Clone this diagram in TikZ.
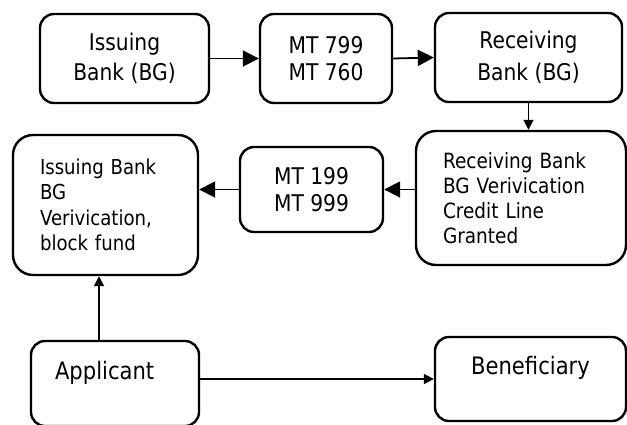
\documentclass[tikz,border=0pt]{standalone}
\usepackage{fontspec}
\setmainfont{DejaVu Sans}[FakeStretch=0.88]
\usetikzlibrary{arrows.meta}
\begin{document}
\begin{tikzpicture}[x=1pt,y=-1pt,
  box/.style={draw, line width=2.4pt, rounded corners=14pt, inner sep=0pt, align=center},
  bigbox/.style={box, rounded corners=20pt, align=left},
  big/.style={-{Triangle[length=16pt,width=16pt]}, line width=1.8pt},
  small/.style={-{Triangle[length=10pt,width=10pt]}, line width=1.8pt}]
\useasboundingbox (0,0) rectangle (627,424);

\node[box, minimum width=169pt, minimum height=89pt, font=\fontsize{23}{30}\selectfont] (ib) at (124.5,58.5) {Issuing\\Bank (BG)};
\node[box, minimum width=132pt, minimum height=89pt, font=\fontsize{23}{27}\selectfont] (mt1) at (326,58.5) {MT 799\\MT 760};
\node[box, minimum width=187pt, minimum height=89pt, font=\fontsize{23}{32}\selectfont] (rb) at (528.5,57.5) {Receiving\\Bank (BG)};

\node[bigbox, minimum width=210pt, minimum height=134pt, text width=156pt, font=\fontsize{21}{25}\selectfont] (rv) at (521,198) {Receiving Bank\\BG Verivication\\Credit Line\\Granted};
\node[box, minimum width=143pt, minimum height=85pt, font=\fontsize{23}{27}\selectfont] (mt2) at (311.5,189.5) {MT 199\\MT 999};
\node[bigbox, minimum width=185pt, minimum height=140pt, text width=131pt, font=\fontsize{20.6}{25.5}\selectfont] (iv) at (105.5,205) {Issuing Bank\\BG\\Verivication,\\block fund};

\node[box, align=left, minimum width=168pt, minimum height=85pt, text width=120pt, text height=17pt, text depth=26pt, font=\fontsize{24}{28}\selectfont] (app) at (115,383.5) {Applicant};
\node[box, minimum width=191pt, minimum height=84pt, text height=17pt, text depth=27pt, font=\fontsize{24}{28}\selectfont] (ben) at (530.5,379) {Beneficiary};

\draw[big] (ib.east) -- (mt1.west);
\draw[big] (mt1.east) -- (rb.west);
\draw[small] (rb.south) -- (rb.south |- rv.north);
\draw[big] (rv.west |- mt2.east) -- (mt2.east);
\draw[big] (mt2.west) -- (mt2.west -| iv.east);
\draw[small] ([xshift=-16pt]app.north) -- ([xshift=-16pt]app.north |- iv.south);
\draw[small] (app.east |- ben.west) -- (ben.west);
\end{tikzpicture}
\end{document}
